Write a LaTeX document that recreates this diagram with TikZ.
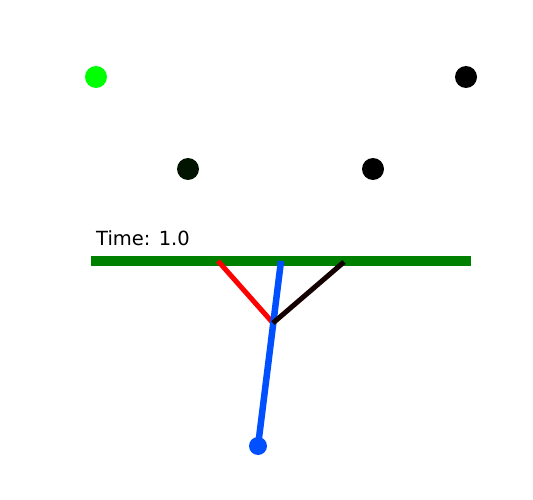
\documentclass[tikz,border=0pt]{standalone}
\usepackage{fontspec}
\setmainfont{DejaVu Sans}
\definecolor{bargreen}{RGB}{0,128,0}
\definecolor{dotgreen}{RGB}{0,255,0}
\definecolor{darkdot}{RGB}{0,20,0}
\definecolor{armblack}{RGB}{20,0,0}
\definecolor{rodblue}{RGB}{0,80,255}

\begin{document}
\begin{tikzpicture}[x=1pt,y=-1pt]

\useasboundingbox (0,0) rectangle (533,500);

\coordinate (BL) at (91,261);
\coordinate (BR) at (471,261);
\coordinate (L) at (218,261);
\coordinate (R) at (344,262);
\coordinate (T) at (281,261);
\coordinate (J) at (273,323);
\coordinate (B) at (258,446);

\fill[dotgreen] (96,77) circle (11);
\fill[black] (466,77) circle (11);
\fill[darkdot] (188,169) circle (11);
\fill[black] (373,169) circle (11);

\node[anchor=base west, inner sep=0pt, font=\fontsize{19.5}{23}\selectfont] (time) at (96,245) {Time: 1.0};

\draw[bargreen, line width=10pt] (BL) -- (BR);
\draw[red, line width=5pt] (L) -- (J);
\draw[rodblue, line width=6.5pt] (T) -- (B);
\draw[armblack, line width=5pt] (R) -- (J);
\fill[rodblue] (B) circle (9);

\end{tikzpicture}
\end{document}
